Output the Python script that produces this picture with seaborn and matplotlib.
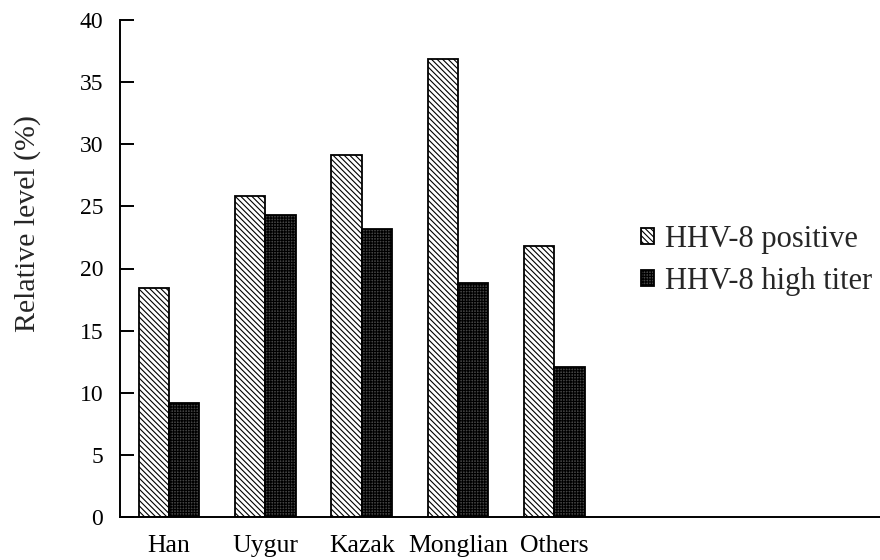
import matplotlib
matplotlib.use("Agg")
import matplotlib.pyplot as plt
import seaborn as sns
import pandas as pd

categories = ["Han", "Uygur", "Kazak", "Monglian", "Others"]
positive = [18.4, 25.8, 29.1, 36.9, 21.8]
high_titer = [9.2, 24.3, 23.2, 18.8, 12.1]
series_names = ["HHV-8 positive", "HHV-8 high titer"]
yticks = [0, 5, 10, 15, 20, 25, 30, 35, 40]

df = pd.DataFrame({
    "group": categories * 2,
    "value": positive + high_titer,
    "series": [series_names[0]] * len(categories) + [series_names[1]] * len(categories),
})

sns.set_style("white")
plt.rcParams["font.family"] = ["Liberation Serif", "DejaVu Serif"]
plt.rcParams["hatch.linewidth"] = 0.8
plt.rcParams["hatch.color"] = "black"

fig = plt.figure(figsize=(8.8, 5.6), dpi=100)
ax = fig.add_axes([120 / 880, 43 / 560, 1 - 120 / 880, 497 / 560])

sns.barplot(data=df, x="group", y="value", hue="series", order=categories,
            hue_order=series_names, palette=["white", "white"], width=0.63,
            edgecolor="black", linewidth=1.3, legend=False, ax=ax)

hatches = ["\\\\\\\\\\\\", "++++++"]
for cont, h in zip(ax.containers, hatches):
    for p in cont:
        p.set_hatch(h)
        p.set_edgecolor("black")
        p.set_facecolor("white")
for p in ax.containers[1]:
    p.set_facecolor("#444444")

ax.set_xlim(-0.51, 7.38)
ax.set_ylim(0, 40)
ax.set_yticks(yticks)
ax.set_yticklabels([str(v) for v in yticks])
ax.set_xlabel("")
ax.set_ylabel("Relative level (%)", fontsize=21.5)
ax.yaxis.set_label_coords(-0.104, 0.59)

for s in ["top", "right"]:
    ax.spines[s].set_visible(False)
for s in ["left", "bottom"]:
    ax.spines[s].set_color("black")
    ax.spines[s].set_linewidth(1.4)

ax.tick_params(axis="y", direction="in", length=10, width=1.4, labelsize=17,
               pad=12, colors="black", left=True)
ax.tick_params(axis="x", length=0, labelsize=18.5, pad=13, colors="black")

ax.legend(ax.containers, series_names, loc="upper left",
          bbox_to_anchor=(641 / 880, 1 - 225 / 560), bbox_transform=fig.transFigure,
          frameon=False, fontsize=22, handlelength=0.42, handleheight=0.42,
          handletextpad=0.35, labelspacing=0.42, borderpad=0, borderaxespad=0)

fig.savefig("out.png", dpi=100)
